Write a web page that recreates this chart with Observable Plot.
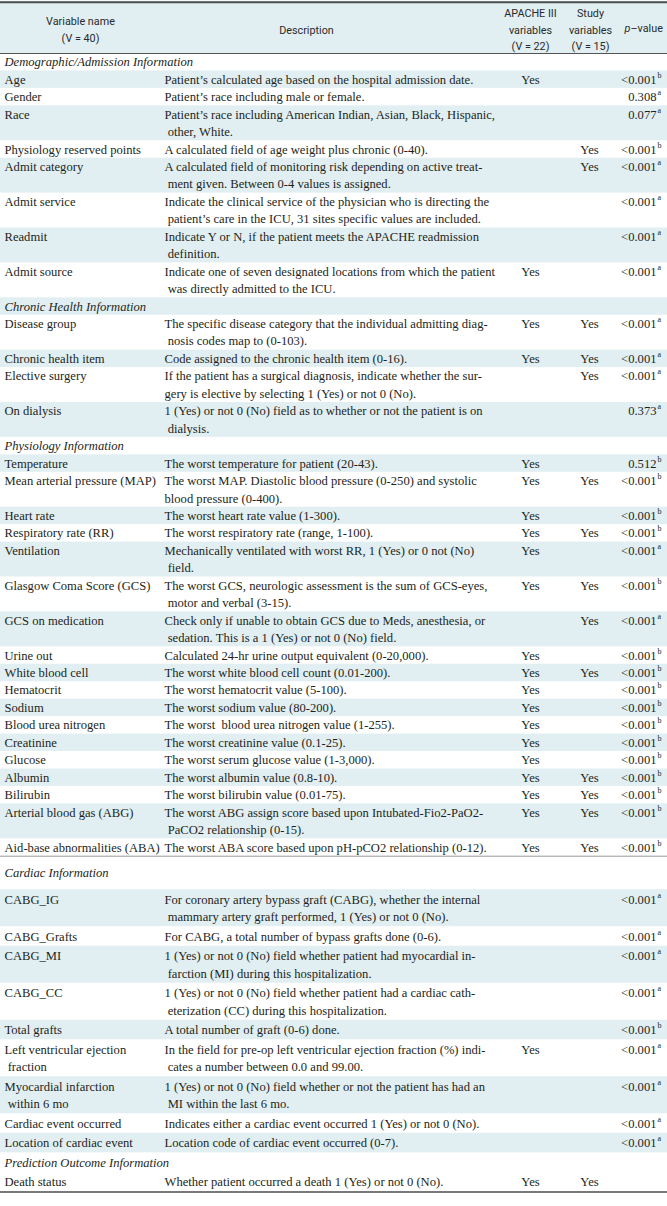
<!DOCTYPE html>
<html>
<head>
<meta charset="utf-8">
<script src="https://cdn.jsdelivr.net/npm/d3@7"></script>
<script src="https://cdn.jsdelivr.net/npm/@observablehq/plot@0.6"></script>
<style>
  html, body { margin: 0; padding: 0; background: #fff; }
  #chart svg { display: block; }
</style>
</head>
<body>
<div id="chart"></div>
<script>
// ---------------- DATA ----------------
const headerLabels = [
  "Variable name\n(V = 40)",
  "Description",
  "APACHE III\nvariables\n(V = 22)",
  "Study\nvariables\n(V = 15)",
  "p–value"
];

const sections = [
  "Demographic/Admission Information",
  "Chronic Health Information",
  "Physiology Information",
  "Cardiac Information",
  "Prediction Outcome Information"
];
const sectionSizes = [8, 4, 18, 9, 1];

const names = [
  "Age", "Gender", "Race", "Physiology reserved points", "Admit category", "Admit service", "Readmit", "Admit source",
  "Disease group", "Chronic health item", "Elective surgery", "On dialysis",
  "Temperature", "Mean arterial pressure (MAP)", "Heart rate", "Respiratory rate (RR)", "Ventilation",
  "Glasgow Coma Score (GCS)", "GCS on medication", "Urine out", "White blood cell", "Hematocrit", "Sodium",
  "Blood urea nitrogen", "Creatinine", "Glucose", "Albumin", "Bilirubin", "Arterial blood gas (ABG)",
  "Aid-base abnormalities (ABA)",
  "CABG_IG", "CABG_Grafts", "CABG_MI", "CABG_CC", "Total grafts", "Left ventricular ejection\n fraction",
  "Myocardial infarction\n within 6 mo", "Cardiac event occurred", "Location of cardiac event",
  "Death status"
];

const descriptions = [
  "Patient’s calculated age based on the hospital admission date.",
  "Patient’s race including male or female.",
  "Patient’s race including American Indian, Asian, Black, Hispanic,\n other, White.",
  "A calculated field of age weight plus chronic (0-40).",
  "A calculated field of monitoring risk depending on active treat-\n ment given. Between 0-4 values is assigned.",
  "Indicate the clinical service of the physician who is directing the\n patient’s care in the ICU, 31 sites specific values are included.",
  "Indicate Y or N, if the patient meets the APACHE readmission\n definition.",
  "Indicate one of seven designated locations from which the patient\n was directly admitted to the ICU.",
  "The specific disease category that the individual admitting diag-\n nosis codes map to (0-103).",
  "Code assigned to the chronic health item (0-16).",
  "If the patient has a surgical diagnosis, indicate whether the sur-\ngery is elective by selecting 1 (Yes) or not 0 (No).",
  "1 (Yes) or not 0 (No) field as to whether or not the patient is on\n dialysis.",
  "The worst temperature for patient (20-43).",
  "The worst MAP. Diastolic blood pressure (0-250) and systolic\nblood pressure (0-400).",
  "The worst heart rate value (1-300).",
  "The worst respiratory rate (range, 1-100).",
  "Mechanically ventilated with worst RR, 1 (Yes) or 0 not (No)\n field.",
  "The worst GCS, neurologic assessment is the sum of GCS-eyes,\n motor and verbal (3-15).",
  "Check only if unable to obtain GCS due to Meds, anesthesia, or\n sedation. This is a 1 (Yes) or not 0 (No) field.",
  "Calculated 24-hr urine output equivalent (0-20,000).",
  "The worst white blood cell count (0.01-200).",
  "The worst hematocrit value (5-100).",
  "The worst sodium value (80-200).",
  "The worst  blood urea nitrogen value (1-255).",
  "The worst creatinine value (0.1-25).",
  "The worst serum glucose value (1-3,000).",
  "The worst albumin value (0.8-10).",
  "The worst bilirubin value (0.01-75).",
  "The worst ABG assign score based upon Intubated-Fio2-PaO2-\n PaCO2 relationship (0-15).",
  "The worst ABA score based upon pH-pCO2 relationship (0-12).",
  "For coronary artery bypass graft (CABG), whether the internal\n mammary artery graft performed, 1 (Yes) or not 0 (No).",
  "For CABG, a total number of bypass grafts done (0-6).",
  "1 (Yes) or not 0 (No) field whether patient had myocardial in-\n farction (MI) during this hospitalization.",
  "1 (Yes) or not 0 (No) field whether patient had a cardiac cath-\n eterization (CC) during this hospitalization.",
  "A total number of graft (0-6) done.",
  "In the field for pre-op left ventricular ejection fraction (%) indi-\n cates a number between 0.0 and 99.00.",
  "1 (Yes) or not 0 (No) field whether or not the patient has had an\n MI within the last 6 mo.",
  "Indicates either a cardiac event occurred 1 (Yes) or not 0 (No).",
  "Location code of cardiac event occurred (0-7).",
  "Whether patient occurred a death 1 (Yes) or not 0 (No)."
];

const apache = [
  "Yes", "", "", "", "", "", "", "Yes",
  "Yes", "Yes", "", "",
  "Yes", "Yes", "Yes", "Yes", "Yes", "Yes", "", "Yes", "Yes", "Yes", "Yes", "Yes", "Yes", "Yes", "Yes", "Yes", "Yes", "Yes",
  "", "", "", "", "", "Yes", "", "", "",
  "Yes"
];

const study = [
  "", "", "", "Yes", "Yes", "", "", "",
  "Yes", "Yes", "Yes", "",
  "", "Yes", "", "Yes", "", "Yes", "Yes", "", "Yes", "", "", "", "", "", "Yes", "Yes", "Yes", "Yes",
  "", "", "", "", "", "", "", "", "",
  "Yes"
];

const pValues = [
  "<0.001", "0.308", "0.077", "<0.001", "<0.001", "<0.001", "<0.001", "<0.001",
  "<0.001", "<0.001", "<0.001", "0.373",
  "0.512", "<0.001", "<0.001", "<0.001", "<0.001", "<0.001", "<0.001", "<0.001", "<0.001", "<0.001", "<0.001",
  "<0.001", "<0.001", "<0.001", "<0.001", "<0.001", "<0.001", "<0.001",
  "<0.001", "<0.001", "<0.001", "<0.001", "<0.001", "<0.001", "<0.001", "<0.001", "<0.001",
  ""
];

const pNotes = [
  "b", "a", "a", "b", "a", "a", "a", "a",
  "a", "a", "a", "a",
  "b", "b", "b", "b", "a", "b", "a", "b", "b", "b", "b", "b", "b", "b", "b", "b", "b", "b",
  "a", "a", "a", "a", "b", "a", "a", "a", "a",
  ""
];

// ---------------- LAYOUT (built from data) ----------------
const W = 667, H = 1206;
const serif = "'Liberation Serif', 'DejaVu Serif', serif";
const sans = "Roboto, 'Noto Sans', sans-serif";
const ink = "#231f20";
const shade = "#e1eff3";
const bodySize = 12.6;
const unitPx = 17.45;          // one text line, in pixels
const breakSection = 3;        // the table continues on a new page here
const rowPad = 0.12;           // extra row padding after the page break (in lines)
const breakGap = 0.8;          // extra space around the first row after the break (in lines)

const rows = [];
let pos = 0, vi = 0;
sections.forEach((s, si) => {
  const after = si >= breakSection;
  const pushRow = (r) => {
    const extra = (after ? rowPad : 0) + (r.kind === "section" && si === breakSection ? breakGap : 0);
    r.top = pos; r.h = r.n + extra; r.inset = extra / 2; r.section = si;
    rows.push(r); pos += r.h;
  };
  pushRow({kind: "section", text: s, n: 1});
  for (let k = 0; k < sectionSizes[si]; k++, vi++) {
    const n = Math.max(descriptions[vi].split("\n").length, names[vi].split("\n").length);
    pushRow({kind: "var", i: vi, n});
  }
});
const totalH = pos;
const pageBreak = rows.find(r => r.kind === "section" && r.section === breakSection).top;

// alternate shading, restarting after the page break; last row plain
let idx = 0;
rows.forEach((r, j) => {
  if (r.kind === "section" && r.section === breakSection) idx = 0;
  r.shaded = idx % 2 === 1 && j !== rows.length - 1;
  idx++;
});

const colX = {name: 4, desc: 164, apache: 530, study: 589, p: 656};
const descRight = 490;
const headX = [80, 306, 530, 590, 630];

const cells = [];
rows.forEach(r => {
  const lineY = k => r.top + r.inset + k + 0.5;
  if (r.kind === "section") {
    cells.push({col: "name", text: r.text, line: lineY(0), italic: true});
    return;
  }
  const i = r.i;
  names[i].split("\n").forEach((t, k) => cells.push({col: "name", text: t, line: lineY(k)}));
  const dl = descriptions[i].split("\n");
  dl.forEach((t, k) => cells.push({
    col: "desc", text: t, line: lineY(k),
    justify: k < dl.length - 1 && r.section < breakSection
  }));
  if (apache[i]) cells.push({col: "apache", text: apache[i], line: lineY(0)});
  if (study[i]) cells.push({col: "study", text: study[i], line: lineY(0)});
  if (pValues[i]) cells.push({col: "p", text: pValues[i], note: pNotes[i], line: lineY(0)});
});

const headCells = headerLabels.map((t, j) => ({text: t, j}));
const pHead = headerLabels[4];

const bodyText = (filter, anchor, label) => Plot.text(cells.filter(d => !d.italic && filter(d)), {
  x: d => colX[d.col], y: "line", text: "text", ariaLabel: label,
  textAnchor: anchor, fontFamily: serif, fontSize: bodySize, fill: ink
});

const chart = Plot.plot({
  width: W,
  height: H,
  margin: 0,
  x: {type: "linear", domain: [0, W], range: [0, W], axis: null},
  y: {type: "linear", domain: [-3, totalH], range: [53 - 3 * unitPx, 53 + totalH * unitPx], axis: null},
  marks: [
    Plot.rect([0], {x1: 0, x2: W, y1: -3, y2: 0, fill: shade}),
    Plot.rect(rows.filter(r => r.shaded), {x1: 0, x2: W, y1: d => d.top, y2: d => d.top + d.h, fill: shade}),
    Plot.ruleY([-3], {stroke: "#4d4d4d", strokeWidth: 2, dy: 1}),
    Plot.ruleY([0], {stroke: "#555", strokeWidth: 1}),
    Plot.ruleY([pageBreak], {stroke: "#9a9a9a", strokeWidth: 1}),
    Plot.ruleY([totalH], {stroke: "#4d4d4d", strokeWidth: 1.5}),
    Plot.text(headCells.filter(d => d.j < 4), {
      x: d => headX[d.j], y: -1.45, text: "text",
      textAnchor: "middle", lineAnchor: "middle", lineHeight: 1.55,
      fontFamily: sans, fontSize: 10.8, fill: "#2a2a2a"
    }),
    Plot.text([pHead], {
      x: headX[4], y: -1.45, text: d => d.slice(0, 1), textAnchor: "end",
      fontFamily: sans, fontStyle: "italic", fontSize: 10.8, fill: "#2a2a2a"
    }),
    Plot.text([pHead], {
      x: headX[4], y: -1.45, text: d => d.slice(1), textAnchor: "start",
      fontFamily: sans, fontSize: 10.8, fill: "#2a2a2a"
    }),
    Plot.text(cells.filter(d => d.italic), {
      x: colX.name, y: "line", text: "text", textAnchor: "start",
      fontFamily: serif, fontStyle: "italic", fontSize: bodySize, fill: ink
    }),
    bodyText(d => d.col === "name" || (d.col === "desc" && !d.justify), "start", "left"),
    bodyText(d => d.col === "desc" && d.justify, "start", "justified"),
    bodyText(d => d.col === "apache" || d.col === "study", "middle", "center"),
    bodyText(d => d.col === "p", "end", "right"),
    Plot.text(cells.filter(d => d.note), {
      x: colX.p + 1, y: "line", text: "note", textAnchor: "start",
      dy: -4.5, fontFamily: serif, fontSize: 8, fill: ink
    })
  ]
});

document.getElementById("chart").appendChild(chart);

// justify the wrapped first lines of descriptions to the column's right edge
chart.querySelectorAll('g[aria-label="justified"] text').forEach(t => {
  const len = t.getComputedTextLength();
  const target = descRight - colX.desc;
  if (len > target * 0.9) {
    t.setAttribute("textLength", target);
    t.setAttribute("lengthAdjust", "spacing");
  }
});
</script>
</body>
</html>
